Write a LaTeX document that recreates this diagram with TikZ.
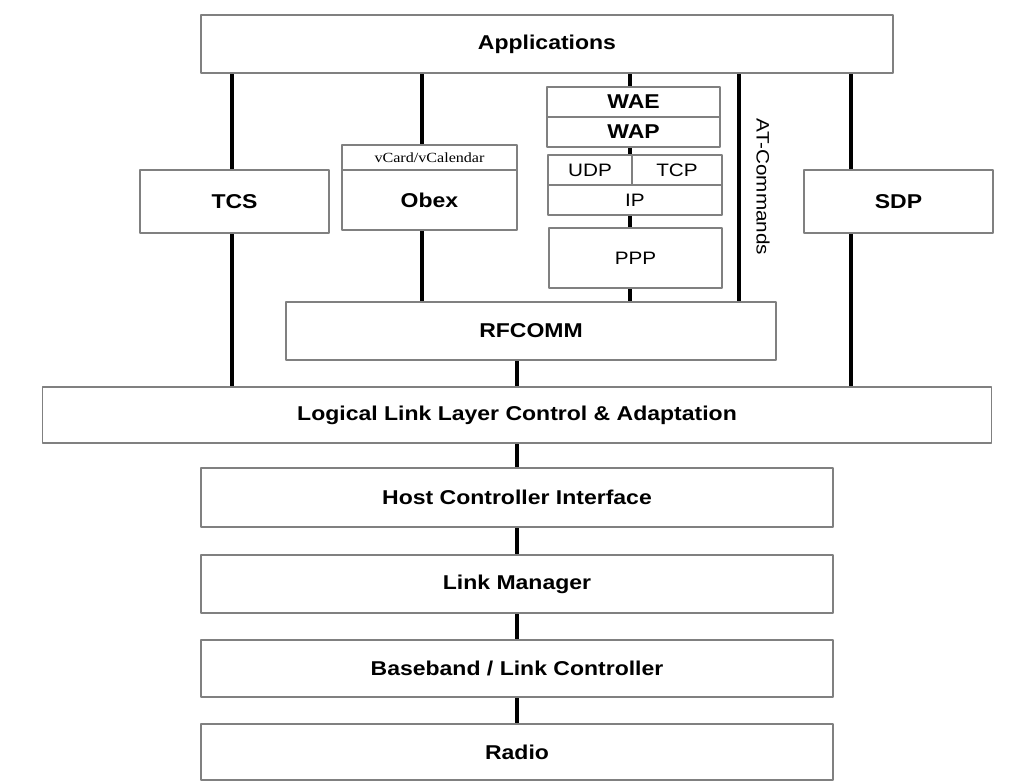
\documentclass[tikz,border=0pt]{standalone}
\usepackage{fontspec}
\setmainfont{Liberation Sans}[FakeStretch=1.15]
\newfontfamily\vcfont{Liberation Serif}[FakeStretch=1.15]
\usetikzlibrary{backgrounds}
\tikzset{
  layer/.style={draw=black!50, line width=1.6pt, fill=white, inner sep=0pt,
    font=\fontsize{20}{24}\selectfont\bfseries},
  plainlayer/.style={layer, font=\fontsize{18}{22}\selectfont},
  sz/.style 2 args={minimum width=#1pt, minimum height=#2pt},
  link/.style={line width=3.5pt, line cap=butt},
}
\begin{document}
\begin{tikzpicture}[x=1pt, y=-1pt, line join=round]
    \useasboundingbox (0,0) rectangle (1031,782);
    % upper stack
    \node[layer, sz={692}{58}] (app) at (547,44) {Applications};
    \node[layer, sz={189}{63}] (tcs) at (234.5,201.5) {TCS};
    \node[layer, sz={189}{63}] (sdp) at (898.5,201.5) {SDP};
    \node[layer, sz={175}{25}, font=\vcfont\fontsize{14}{16}\selectfont] (vcard) at (429.5,157.5) {vCard/vCalendar};
    \node[layer, sz={175}{60}] (obex) at (429.5,200) {Obex};
    \node[layer, sz={173}{30}] (wae) at (633.5,102) {WAE};
    \node[layer, sz={173}{30}] (wap) at (633.5,132) {WAP};
    \node[plainlayer, sz={84}{30}] (udp) at (590,170) {UDP};
    \node[plainlayer, sz={90}{30}] (tcp) at (677,170) {TCP};
    \node[plainlayer, sz={174}{30}] (ip) at (635,200) {IP};
    \node[plainlayer, sz={173}{60}] (ppp) at (635.5,258) {PPP};
    \node[rotate=-90, font=\fontsize{18}{22}\selectfont] (atcmd) at (763,187) {AT-Commands};
    \node[layer, sz={490}{58}] (rfcomm) at (531,331) {RFCOMM};
    % lower stack
    \node[layer, sz={949}{56}] (l2cap) at (517,415) {Logical Link Layer Control \& Adaptation};
    \node[layer, sz={632}{59}] (hci) at (517,497.5) {Host Controller Interface};
    \node[layer, sz={632}{58}] (lm) at (517,584) {Link Manager};
    \node[layer, sz={632}{57}] (bb) at (517,668.5) {Baseband / Link Controller};
    \node[layer, sz={632}{56}] (radio) at (517,752) {Radio};
    % connectors
    \coordinate (xtcs) at (232,0);
    \coordinate (xobex) at (422,0);
    \coordinate (xwap) at (630,0);
    \coordinate (xat) at (739,0);
    \coordinate (xsdp) at (851,0);
    \begin{scope}[on background layer]
        \foreach \c/\n in {xtcs/l2cap, xobex/rfcomm, xwap/rfcomm, xat/rfcomm, xsdp/l2cap}
            \draw[link] (app.south -| \c) -- (\n.north -| \c);
        \draw[link] (rfcomm.south -| l2cap.north) -- (l2cap.north);
        \foreach \a/\b in {l2cap/hci, hci/lm, lm/bb, bb/radio}
            \draw[link] (\a.south) -- (\b.north);
    \end{scope}
\end{tikzpicture}
\end{document}
